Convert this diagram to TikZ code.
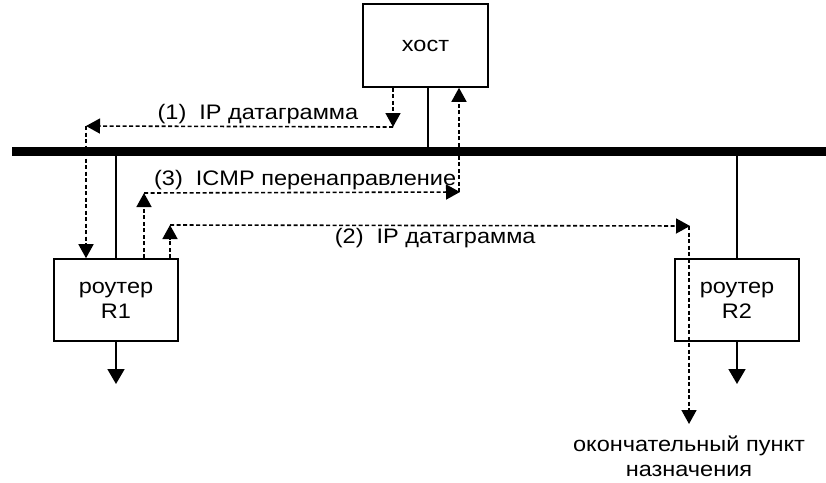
\documentclass[tikz,border=0pt]{standalone}
\usepackage{fontspec}
\setmainfont[FakeStretch=1.12]{Liberation Sans}
\usetikzlibrary{arrows.meta, positioning, calc}
\tikzset{
    netbox/.style={rectangle, draw=black, line width=1.6pt, minimum width=124pt, minimum height=82pt, align=center, inner sep=0pt},
    netbus/.style={line width=9pt, black},
    netlink/.style={line width=1.8pt, black},
    netout/.style={netlink, -{Triangle[length=15pt, width=17pt]}},
    netflow/.style={line width=1.6pt, black, dash pattern=on 4pt off 2.5pt, -{Triangle[length=14pt, width=15pt]}},
    netlabel/.style={align=center, inner sep=2pt}
}

\begin{document}
\begin{tikzpicture}[x=1pt, y=-1pt, font=\fontsize{21}{25}\selectfont]
\useasboundingbox (0,0) rectangle (826,482);

\node[netbox, minimum width=125pt, minimum height=83pt] (host) at (425.5,45.5) {хост};
\node[netbox] (r1) at (116,300) {роутер\\R1};
\node[netbox] (r2) at (737,300) {роутер\\R2};

% ethernet
\coordinate (busl) at (12,151);
\coordinate (busr) at (826,151);
\draw[netbus] (busl) -- (busr);

\draw[netlink] ([xshift=2.5pt]host.south) -- ([xshift=2.5pt]host.south |- busl);
\draw[netlink] (r1.north |- busl) -- (r1.north);
\draw[netlink] (r2.north |- busl) -- (r2.north);
\coordinate (r1out) at (116,384);
\coordinate (r2out) at (737,384);
\draw[netout] (r1.south) -- (r1out);
\draw[netout] (r2.south) -- (r2out);

% (1) host -> R1
\coordinate (a1) at (393,127);
\coordinate (a2) at (86,126);
\draw[netflow] (host.south -| a1) -- (a1);
\draw[netflow] (a1) -- node[netlabel, above, pos=0.44] (l1) {(1)~~IP датаграмма} (a2);
\draw[netflow] (a2) -- (a2 |- r1.north);

% (3) R1 -> host
\coordinate (b1) at (144,193);
\coordinate (b2) at (460,192);
\draw[netflow] (r1.north -| b1) -- (b1);
\draw[netflow] (b1) -- node[netlabel, above, pos=0.51] (l3) {(3)~~ICMP перенаправление} (b2);
\draw[netflow] ([xshift=-1pt]b2) -- ([xshift=-1pt]b2 |- host.south);

% (2) R1 -> R2
\coordinate (c1) at (170,225);
\coordinate (c2) at (690,226);
\coordinate (c3) at (689,424);
\draw[netflow] (r1.north -| c1) -- (c1);
\draw[netflow] (c1) -- node[netlabel, below, pos=0.51] (l2) {(2)~~IP датаграмма} (c2);
\draw[netflow] ([xshift=-1pt]c2) -- (c3);

\node[netlabel, below=10pt of c3] (dest) {окончательный пункт\\назначения};

\end{tikzpicture}
\end{document}
